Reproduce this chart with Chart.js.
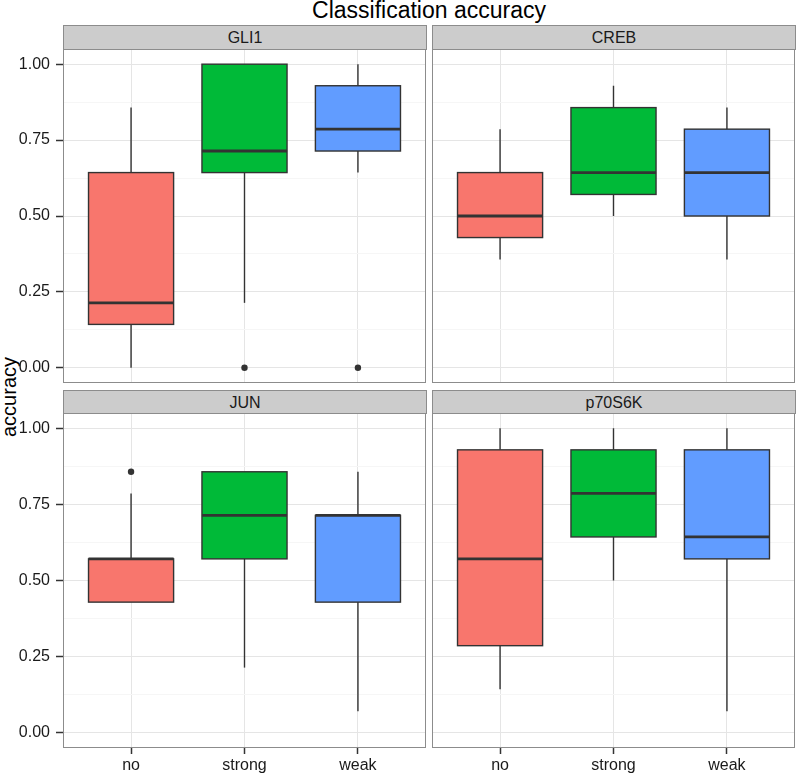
<!DOCTYPE html>
<html>
<head>
<meta charset="utf-8">
<script src="https://cdn.jsdelivr.net/npm/chart.js@4.4.0/dist/chart.umd.min.js"></script>
<style>
  body { margin: 0; background: #fff; width: 798px; height: 778px; position: relative; overflow: hidden;
         font-family: "Liberation Sans", Arial, sans-serif; }
  canvas { position: absolute; }
  .strip { position: absolute; background: #cccccc; border: 1px solid #8c8c8c; box-sizing: border-box;
           font-size: 16px; color: #1a1a1a; text-align: center; line-height: 23px; }
  #title { position: absolute; left: 63px; width: 732px; top: -1px; line-height: 23px;
           font-size: 23px; color: #000; text-align: center; }
  #ylab { position: absolute; left: -51px; top: 385px; width: 120px; height: 24px; line-height: 24px;
          font-size: 20px; color: #000; text-align: center; transform: rotate(-90deg); }
</style>
</head>
<body>
<div id="title">Classification accuracy</div>
<div id="ylab">accuracy</div>

<div class="strip" style="left:63px;top:25px;width:364px;height:25px">GLI1</div>
<div class="strip" style="left:432px;top:25px;width:364px;height:25px">CREB</div>
<div class="strip" style="left:63px;top:390px;width:364px;height:24px">JUN</div>
<div class="strip" style="left:432px;top:390px;width:364px;height:24px">p70S6K</div>

<canvas id="cGLI1" width="436" height="350" style="left:0;top:40px"></canvas>
<canvas id="cCREB" width="372" height="350" style="left:426px;top:40px"></canvas>
<canvas id="cJUN" width="436" height="373" style="left:0;top:405px"></canvas>
<canvas id="cP70" width="372" height="373" style="left:426px;top:405px"></canvas>

<script>
// groups on the x axis, ggplot default hues
const GROUPS = ['no', 'strong', 'weak'];
const FILLS = ['#F8766D', '#00BA38', '#619CFF'];
const Y_TICKS = [0, 0.25, 0.5, 0.75, 1];
const Y_MINOR = [0.125, 0.375, 0.625, 0.875];

// [lower whisker, q1, median, q3, upper whisker] per group
const GLI1_BOX = [[0.000, 0.143, 0.214, 0.643, 0.857],
                  [0.214, 0.643, 0.714, 1.000, 1.000],
                  [0.643, 0.714, 0.786, 0.929, 1.000]];
const GLI1_OUT = [[], [0.000], [0.000]];

const CREB_BOX = [[0.357, 0.429, 0.500, 0.643, 0.786],
                  [0.500, 0.571, 0.643, 0.857, 0.929],
                  [0.357, 0.500, 0.643, 0.786, 0.857]];
const CREB_OUT = [[], [], []];

const JUN_BOX = [[0.429, 0.429, 0.571, 0.571, 0.786],
                 [0.214, 0.571, 0.714, 0.857, 0.857],
                 [0.071, 0.429, 0.714, 0.714, 0.857]];
const JUN_OUT = [[0.857], [], []];

const P70_BOX = [[0.143, 0.286, 0.571, 0.929, 1.000],
                 [0.500, 0.643, 0.786, 0.929, 1.000],
                 [0.071, 0.571, 0.643, 0.929, 1.000]];
const P70_OUT = [[], [], []];

const FONT = { family: '"Liberation Sans", Arial, sans-serif', size: 16 };
const LINE = '#333333';
const BORDER = '#8c8c8c';

const boxPlugin = {
  id: 'boxes',
  beforeDatasetsDraw(chart) {
    const { ctx, scales: { x, y } } = chart;
    const stats = chart.options.plugins.boxes.stats;
    ctx.save();
    stats.forEach((s, i) => {
      const cx = x.getPixelForValue(i + 1);
      const l = x.getPixelForValue(i + 1 - 0.375);
      const r = x.getPixelForValue(i + 1 + 0.375);
      const [lo, q1, med, q3, hi] = s.map(v => y.getPixelForValue(v));
      // whiskers
      ctx.strokeStyle = LINE;
      ctx.lineWidth = 1.4;
      ctx.beginPath();
      ctx.moveTo(cx, lo); ctx.lineTo(cx, q1);
      ctx.moveTo(cx, q3); ctx.lineTo(cx, hi);
      ctx.stroke();
      // box
      ctx.fillStyle = FILLS[i];
      ctx.fillRect(l, q3, r - l, q1 - q3);
      ctx.lineWidth = 1.4;
      ctx.strokeRect(l, q3, r - l, q1 - q3);
      // median
      ctx.lineWidth = 2.8;
      ctx.beginPath();
      ctx.moveTo(l, med); ctx.lineTo(r, med);
      ctx.stroke();
    });
    ctx.restore();
  },
  afterDraw(chart) {
    const { ctx, chartArea: a } = chart;
    ctx.save();
    ctx.strokeStyle = BORDER;
    ctx.lineWidth = 1;
    ctx.strokeRect(Math.round(a.left) + 0.5, Math.round(a.top) + 0.5,
                   Math.round(a.right - a.left) - 1, Math.round(a.bottom - a.top) - 1);
    ctx.restore();
  }
};

function makePanel(id, stats, outliers, showX, showY, padding) {
  const pts = [];
  outliers.forEach((arr, i) => arr.forEach(v => pts.push({ x: i + 1, y: v })));
  new Chart(document.getElementById(id), {
    type: 'scatter',
    data: {
      datasets: [{
        data: pts,
        pointRadius: 3.2,
        pointBackgroundColor: LINE,
        pointBorderWidth: 0
      }]
    },
    plugins: [boxPlugin],
    options: {
      responsive: false,
      animation: false,
      devicePixelRatio: 1,
      layout: { padding: padding },
      plugins: {
        legend: { display: false },
        tooltip: { enabled: false },
        boxes: { stats: stats }
      },
      scales: {
        x: {
          type: 'linear',
          min: 0.4, max: 3.6,
          afterBuildTicks: s => { s.ticks = GROUPS.map((g, i) => ({ value: i + 1 })); },
          afterFit: s => {
            s.height = showX ? 30 : 0;
            s.paddingLeft = 0; s.paddingRight = 0;
          },
          border: { display: false },
          grid: { color: '#e5e5e5', lineWidth: 1, drawTicks: showX, tickColor: LINE, tickLength: 6, tickWidth: 1.5 },
          ticks: { display: showX, callback: v => GROUPS[v - 1], color: '#1a1a1a', font: FONT, padding: 2, maxRotation: 0 }
        },
        y: {
          min: -0.05, max: 1.05,
          afterBuildTicks: s => {
            s.ticks = Y_TICKS.concat(Y_MINOR).sort((a, b) => a - b).map(v => ({ value: v }));
          },
          afterFit: s => {
            s.width = showY ? 63 : 0;
            s.paddingTop = 0; s.paddingBottom = 0;
          },
          border: { display: false },
          grid: {
            color: c => Y_TICKS.includes(c.tick.value) ? '#e5e5e5' : '#f6f6f6',
            lineWidth: 1,
            drawTicks: showY,
            tickColor: c => Y_TICKS.includes(c.tick.value) ? LINE : 'rgba(0,0,0,0)',
            tickLength: 7,
            tickWidth: 1.5
          },
          ticks: {
            display: showY,
            autoSkip: false,
            callback: v => Y_TICKS.includes(v) ? v.toFixed(2) : '',
            color: '#1a1a1a', font: FONT, padding: 6
          }
        }
      }
    }
  });
}

makePanel('cGLI1', GLI1_BOX, GLI1_OUT, false, true, { left: 0, top: 9, right: 10, bottom: 7 });
makePanel('cCREB', CREB_BOX, CREB_OUT, false, false, { left: 6, top: 9, right: 3, bottom: 7 });
makePanel('cJUN', JUN_BOX, JUN_OUT, true, true, { left: 0, top: 8, right: 10, bottom: 0 });
makePanel('cP70', P70_BOX, P70_OUT, true, false, { left: 6, top: 8, right: 3, bottom: 0 });
</script>
</body>
</html>
